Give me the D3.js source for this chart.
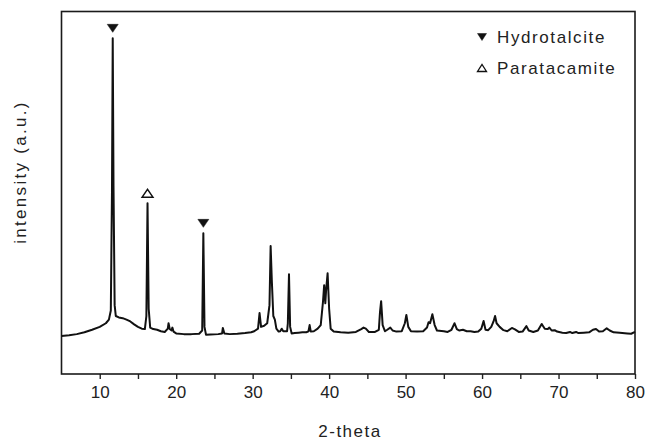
<!DOCTYPE html>
<html>
<head>
<meta charset="utf-8">
<script src="https://cdn.jsdelivr.net/npm/d3@7"></script>
<style>
  body { margin: 0; background: #fff; }
  svg { display: block; font-family: "Liberation Sans", Arial, sans-serif; }
  .tick text { font-size: 17px; fill: #222; }
</style>
</head>
<body>
<div class="xrd"></div>
<script>
const WIDTH = 647;
const HEIGHT = 442;
const LEFT = 61.5, RIGHT = 635, TOP = 11.5, BOTTOM = 374;

// 2-theta (deg) and intensity (a.u.)
const twoTheta = [
  5.0, 6.0, 7.0, 8.0, 9.0, 10.0, 10.8, 11.2, 11.45, 11.6, 11.7, 11.8, 11.95, 12.1, 12.5, 13.0, 13.5, 14.0, 14.5, 15.0,
  15.5, 15.9, 16.1, 16.25, 16.4, 16.6, 17.0, 17.5, 18.0, 18.5, 18.9, 19.0, 19.15, 19.4, 19.5, 19.65, 20.0, 21.0, 22.0, 23.0,
  23.4, 23.55, 23.7, 23.9, 24.5, 25.5, 26.0, 26.1, 26.3, 27.0, 28.0, 29.0, 29.8, 30.2, 30.7, 30.9, 31.1, 31.5, 31.9, 32.2,
  32.35, 32.5, 32.7, 32.9, 33.1, 33.4, 33.6, 33.8, 34.0, 34.5, 34.6, 34.75, 34.9, 35.1, 35.5, 36.0, 36.5, 37.0, 37.3, 37.45,
  37.6, 38.0, 38.5, 38.9, 39.2, 39.35, 39.5, 39.6, 39.8, 40.0, 40.2, 40.6, 41.5, 42.5, 43.5, 44.2, 44.5, 44.8, 45.2, 46.0,
  46.5, 46.65, 46.8, 47.0, 47.3, 47.6, 48.0, 48.3, 48.8, 49.5, 49.9, 50.1, 50.35, 50.7, 51.5, 52.3, 52.8, 53.0, 53.2, 53.5,
  53.8, 54.1, 55.0, 55.5, 56.0, 56.4, 56.7, 57.0, 57.5, 58.0, 58.5, 59.0, 59.5, 59.9, 60.2, 60.45, 60.8, 61.2, 61.5, 61.7,
  61.9, 62.3, 62.8, 63.3, 63.9, 64.3, 64.8, 65.3, 65.8, 66.1, 66.7, 67.3, 67.8, 68.2, 68.6, 68.8, 69.1, 69.5, 69.8, 70.5,
  71.0, 71.5, 71.8, 72.3, 72.6, 73.3, 74.0, 74.5, 74.9, 75.3, 75.8, 76.3, 76.7, 77.2, 78.0, 79.0, 79.5, 80.0
];
const intensity = [
  105, 107, 110, 115, 122, 130, 140, 150, 175, 500, 926, 520, 190, 160, 156, 154, 150, 145, 137, 130,
  125, 124, 160, 471, 180, 128, 124, 122, 118, 116, 125, 140, 124, 120, 128, 117, 112, 110, 110, 111,
  120, 388, 130, 108, 109, 110, 112, 127, 112, 110, 111, 113, 115, 118, 125, 168, 130, 133, 140, 190,
  353, 260, 160, 150, 125, 117, 118, 125, 118, 118, 140, 275, 130, 112, 113, 114, 115, 115, 118, 135,
  117, 118, 125, 135, 200, 245, 195, 230, 278, 180, 125, 117, 115, 114, 116, 124, 128, 125, 116, 116,
  122, 170, 201, 135, 118, 122, 128, 120, 117, 118, 140, 163, 130, 118, 117, 118, 128, 143, 140, 165,
  135, 120, 118, 116, 122, 140, 124, 120, 122, 118, 118, 116, 117, 125, 146, 122, 121, 130, 145, 160,
  140, 130, 121, 118, 127, 123, 116, 117, 132, 120, 116, 120, 138, 125, 124, 128, 120, 121, 117, 114,
  113, 116, 113, 116, 113, 114, 115, 122, 124, 117, 118, 126, 120, 115, 114, 112, 111, 116
];
const xTicks = [10, 20, 30, 40, 50, 60, 70, 80];
const xMinorTicks = [15, 25, 35, 45, 55, 65, 75];

// phase markers over the peaks
const markerTheta = [11.7, 16.25, 23.55];
const markerPhase = ["Hydrotalcite", "Paratacamite", "Hydrotalcite"];
const phases = ["Hydrotalcite", "Paratacamite"];

const data = twoTheta.map((t, i) => ({ t: t, v: intensity[i] }));

const svg = d3.select(".xrd").append("svg").attr("width", WIDTH).attr("height", HEIGHT);

const x = d3.scaleLinear().domain([5, 80]).range([LEFT, RIGHT]);
const y = d3.scaleLinear().domain([0, 1000]).range([BOTTOM, TOP]);

// triangle path, down = filled hydrotalcite, up = open paratacamite
const tri = (cx, cy, w, h, down) => {
  const s = down ? 1 : -1;
  return `M${cx - w / 2},${cy - s * h / 2}L${cx + w / 2},${cy - s * h / 2}L${cx},${cy + s * h / 2}Z`;
};
const isDown = p => p === "Hydrotalcite";

// X-Axis
const xAxis = svg.append("g")
  .attr("transform", `translate(0, ${BOTTOM})`)
  .call(d3.axisBottom(x).tickValues(xTicks).tickSize(5).tickPadding(7).tickFormat(d3.format("d")));
xAxis.select(".domain").remove();
xAxis.selectAll(".tick line").attr("stroke", "#222").attr("stroke-width", 1.4);

const xMinor = svg.append("g")
  .attr("transform", `translate(0, ${BOTTOM})`)
  .call(d3.axisBottom(x).tickValues(xMinorTicks).tickSize(5).tickFormat(""));
xMinor.select(".domain").remove();
xMinor.selectAll(".tick line").attr("stroke", "#222").attr("stroke-width", 1.4);

// Frame
svg.append("rect")
  .attr("x", LEFT).attr("y", TOP)
  .attr("width", RIGHT - LEFT).attr("height", BOTTOM - TOP)
  .attr("fill", "none").attr("stroke", "#1a1a1a").attr("stroke-width", 1.6);

// Pattern
const line = d3.line().x(d => x(d.t)).y(d => y(d.v));
svg.append("path")
  .datum(data)
  .attr("fill", "none")
  .attr("stroke", "#111")
  .attr("stroke-width", 2)
  .attr("stroke-linejoin", "round")
  .attr("d", line);

// Peak markers
const peakAt = t => intensity[twoTheta.indexOf(t)];
svg.append("g").selectAll("path")
  .data(markerTheta)
  .enter().append("path")
  .attr("d", (t, i) => tri(x(t), y(peakAt(t)) - 10, 11, 8, isDown(markerPhase[i])))
  .attr("fill", (t, i) => isDown(markerPhase[i]) ? "#111" : "#fff")
  .attr("stroke", "#111")
  .attr("stroke-width", (t, i) => isDown(markerPhase[i]) ? 0.5 : 1.4);

// Legend
const legend = svg.append("g").attr("transform", "translate(482, 37)");
const rows = legend.selectAll("g").data(phases).enter().append("g")
  .attr("transform", (d, i) => `translate(0, ${i * 31})`);
rows.append("path")
  .attr("d", d => tri(0, 0, 9, 7, isDown(d)))
  .attr("fill", d => isDown(d) ? "#111" : "#fff")
  .attr("stroke", "#111")
  .attr("stroke-width", d => isDown(d) ? 0.5 : 1.3);
rows.append("text")
  .attr("x", 15).attr("y", 6)
  .attr("font-size", 17)
  .attr("letter-spacing", 1.6)
  .attr("fill", "#222")
  .text(d => d);

// Axis labels
svg.append("text")
  .attr("x", 350).attr("y", 437)
  .attr("text-anchor", "middle")
  .attr("font-size", 17)
  .attr("letter-spacing", 1.5)
  .attr("fill", "#222")
  .text("2-theta");

svg.append("text")
  .attr("transform", "translate(26, 172) rotate(-90)")
  .attr("text-anchor", "middle")
  .attr("font-size", 17)
  .attr("letter-spacing", 2.3)
  .attr("fill", "#222")
  .text("intensity (a.u.)");
</script>
</body>
</html>
